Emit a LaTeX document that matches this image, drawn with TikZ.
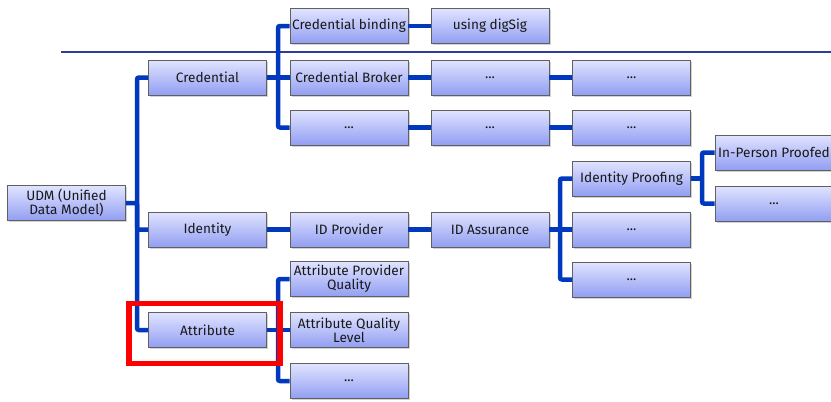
\documentclass[tikz,border=0pt]{standalone}
\usepackage{fontspec}
\setmainfont{Fira Sans}
\usetikzlibrary{shadows}
\definecolor{boxtop}{RGB}{224,228,255}
\definecolor{boxbot}{RGB}{146,158,242}
\definecolor{linkblue}{RGB}{0,56,190}
\definecolor{rulecol}{RGB}{45,60,150}
\tikzset{
    box/.style={draw=gray!75!black, line width=0.6pt, top color=boxtop, bottom color=boxbot,
        minimum width=118pt, minimum height=35pt, inner sep=0.5pt, align=center,
        text=black!90, font=\fontsize{13.6}{14}\selectfont,
        drop shadow={shadow xshift=1.5pt, shadow yshift=-1.5pt, fill=black!35}}, % node boxes
    link/.style={linkblue, line width=4.5pt, rounded corners=2pt} % tree connectors
}
\begin{document}
\begin{tikzpicture}[x=1pt, y=-1pt]
    \useasboundingbox (0,0) rectangle (831,402);
    \clip (0,0) rectangle (831,402);

    \draw[rulecol, line width=2pt] (61,52) -- (831,52);

    % root and first level
    \node[box] (udm) at (66.5,203) {UDM (Unified\\Data Model)};
    \node[box] (cred) at (207.5,77.5) {Credential};
    \node[box] (ident) at (207.5,229.5) {Identity};
    \node[box] (attr) at (207.5,330) {Attribute};

    % credential branch
    \node[box] (bind) at (349,26) {Credential binding};
    \node[box] (broker) at (349,77.5) {Credential Broker};
    \node[box] (credx) at (349,127.5) {...};
    \node[box] (digsig) at (490,26) {using digSig};
    \node[box] (brokerA) at (490,77.5) {...};
    \node[box] (brokerB) at (631.5,77.5) {...};
    \node[box] (credxA) at (490,127.5) {...};
    \node[box] (credxB) at (631.5,127.5) {...};

    % identity branch
    \node[box] (idp) at (349,229.5) {ID Provider};
    \node[box] (ida) at (490,229.5) {ID Assurance};
    \node[box] (proof) at (631.5,178.5) {Identity Proofing};
    \node[box] (idaA) at (631.5,229.5) {...};
    \node[box] (idaB) at (631.5,279.5) {...};
    \node[box] (inperson) at (774,152.5) {In-Person Proofed};
    \node[box] (proofx) at (774,203.5) {...};

    % attribute branch
    \node[box] (apq) at (349,279) {Attribute Provider\\Quality};
    \node[box] (aql) at (349,330) {Attribute Quality\\Level};
    \node[box] (attrx) at (349,381) {...};

    \coordinate (j0) at (137,203);
    \coordinate (j1) at (278,77.5);
    \coordinate (j2) at (278,330);
    \coordinate (j3) at (560,229.5);
    \coordinate (j4) at (702,178.5);

    \draw[link] (cred.west) -| (j0) |- (attr.west);
    \draw[link] (udm.east) -- (j0) |- (ident.west);
    \draw[link] (bind.west) -| (j1) |- (credx.west);
    \draw[link] (cred.east) -- (j1) -- (broker.west);
    \draw[link] (apq.west) -| (j2) |- (attrx.west);
    \draw[link] (attr.east) -- (j2) -- (aql.west);
    \draw[link] (proof.west) -| (j3) |- (idaB.west);
    \draw[link] (ida.east) -- (j3) -- (idaA.west);
    \draw[link] (inperson.west) -| (j4) |- (proofx.west);
    \draw[link] (proof.east) -- (j4);

    \draw[link] (bind.east) -- (digsig.west);
    \draw[link] (broker.east) -- (brokerA.west);
    \draw[link] (brokerA.east) -- (brokerB.west);
    \draw[link] (credx.east) -- (credxA.west);
    \draw[link] (credxA.east) -- (credxB.west);
    \draw[link] (ident.east) -- (idp.west);
    \draw[link] (idp.east) -- (ida.west);

    \draw[red, line width=5.5pt] (129,303.5) rectangle (280,363.5);
\end{tikzpicture}
\end{document}
